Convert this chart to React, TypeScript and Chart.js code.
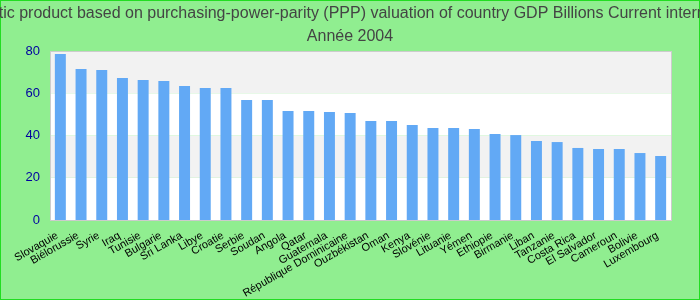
import React, { useEffect, useRef } from "react";
import { Chart, registerables } from "chart.js";

Chart.register(...registerables);

const titleLines = [
  "Gross domestic product based on purchasing-power-parity (PPP) valuation of country GDP Billions Current international dollar",
  "Année 2004",
];

const countries = [
  "Slovaquie", "Biélorussie", "Syrie", "Iraq", "Tunisie", "Bulgarie", "Sri Lanka", "Libye",
  "Croatie", "Serbie", "Soudan", "Angola", "Qatar", "Guatemala", "République Dominicaine",
  "Ouzbékistan", "Oman", "Kenya", "Slovénie", "Lituanie", "Yémen", "Ethiopie", "Birmanie",
  "Liban", "Tanzanie", "Costa Rica", "El Salvador", "Cameroun", "Bolivie", "Luxembourg",
];

const gdpValues = [
  78.6, 71.5, 71.0, 67.2, 66.3, 65.8, 63.4, 62.5,
  62.5, 56.8, 56.8, 51.6, 51.6, 51.1, 50.6,
  46.9, 46.9, 45.0, 43.6, 43.6, 43.1, 40.7, 40.2,
  37.4, 36.9, 34.1, 33.6, 33.6, 31.7, 30.3,
];

const yTicks = [0, 20, 40, 60, 80];

const FONT = "'Liberation Sans', Arial, sans-serif";

const bgPlugin = {
  id: "bgPlugin",
  beforeDraw(chart: any) {
    const { ctx, width, height, chartArea, scales } = chart;
    ctx.save();
    ctx.fillStyle = "#90ee90";
    ctx.fillRect(0, 0, width, height);
    ctx.strokeStyle = "#22dd22";
    ctx.lineWidth = 1;
    ctx.strokeRect(0.5, 0.5, width - 1, height - 1);
    const y = scales.y;
    for (let i = 0; i < yTicks.length - 1; i++) {
      const top = y.getPixelForValue(yTicks[i + 1]);
      const bottom = y.getPixelForValue(yTicks[i]);
      ctx.fillStyle = i % 2 === 0 ? "#ffffff" : "#f2f2f2";
      ctx.fillRect(chartArea.left, top, chartArea.right - chartArea.left, bottom - top);
    }
    ctx.strokeStyle = "#cccccc";
    ctx.lineWidth = 1;
    ctx.strokeRect(
      Math.round(chartArea.left) + 0.5,
      Math.round(chartArea.top) + 0.5,
      Math.round(chartArea.right - chartArea.left),
      Math.round(chartArea.bottom - chartArea.top)
    );
    // title, drawn without width compression
    ctx.fillStyle = "#444444";
    ctx.font = `16px ${FONT}`;
    ctx.textAlign = "center";
    ctx.textBaseline = "alphabetic";
    ctx.fillText(titleLines[0], width / 2, 18);
    ctx.fillText(titleLines[1], width / 2, 41);
    ctx.restore();
  },
};

export default function App() {
  const ref = useRef<HTMLCanvasElement>(null);
  useEffect(() => {
    document.body.style.margin = "0";
    const chart = new Chart(ref.current!, {
      type: "bar",
      data: {
        labels: countries,
        datasets: [
          {
            data: gdpValues,
            backgroundColor: "#62a9f5",
            barPercentage: 0.53,
            categoryPercentage: 1,
          },
        ],
      },
      options: {
        responsive: false,
        animation: false,
        layout: { padding: { left: 0, right: 29, top: 51, bottom: 0 } },
        plugins: {
          legend: { display: false },
          tooltip: { enabled: false },
          title: { display: false },
        },
        scales: {
          x: {
            grid: { display: false, drawTicks: false },
            border: { display: false },
            ticks: {
              color: "#000000",
              font: { family: FONT, size: 11 },
              minRotation: 30,
              maxRotation: 30,
              autoSkip: false,
              padding: 9,
              labelOffset: -3,
            },
            afterFit: (s: any) => { s.height = 80; },
          },
          y: {
            min: 0,
            max: 80,
            grid: { display: false, drawTicks: false },
            border: { display: false },
            ticks: {
              stepSize: 20,
              color: "#0000a0",
              font: { family: FONT, size: 13 },
              padding: 10,
            },
            afterFit: (s: any) => { s.width = 50; },
          },
        },
      },
      plugins: [bgPlugin],
    });
    return () => chart.destroy();
  }, []);
  return <canvas ref={ref} width={700} height={300} style={{ display: "block" }} />;
}
